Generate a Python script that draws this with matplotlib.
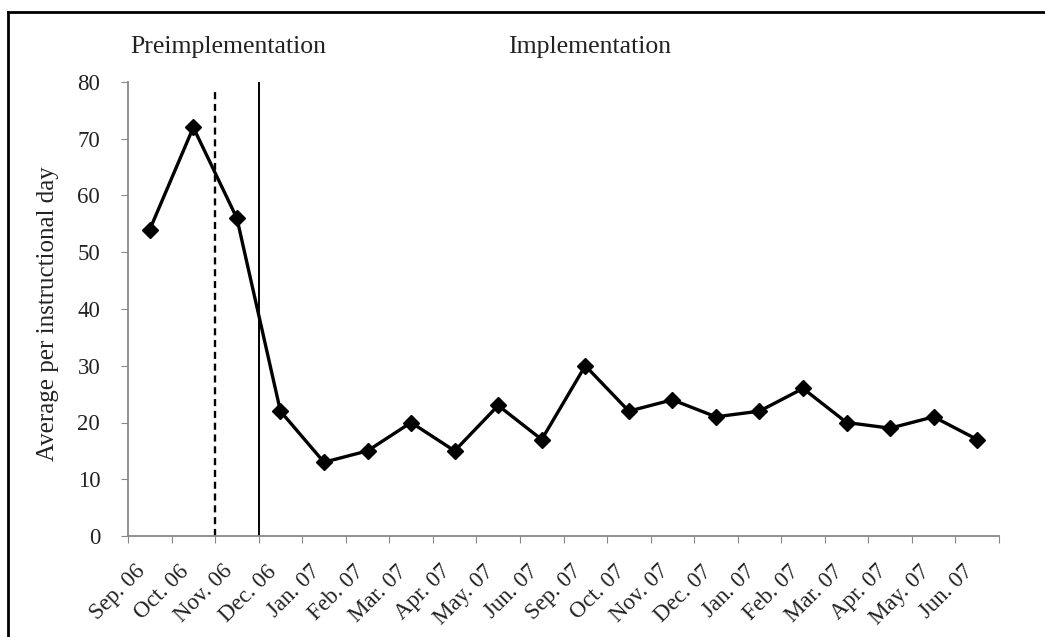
import matplotlib.pyplot as plt
from matplotlib.lines import Line2D

# Monthly averages
months = ["Sep. 06", "Oct. 06", "Nov. 06", "Dec. 06", "Jan. 07", "Feb. 07",
          "Mar. 07", "Apr. 07", "May. 07", "Jun. 07", "Sep. 07", "Oct. 07",
          "Nov. 07", "Dec. 07", "Jan. 07", "Feb. 07", "Mar. 07", "Apr. 07",
          "May. 07", "Jun. 07"]
values = [54, 72, 56, 22, 13, 15, 20, 15, 23, 17, 30, 22, 24, 21, 22, 26,
          20, 19, 21, 17]

# phase boundaries (category boundaries) and their heights
dashed_at, dashed_top = 2, 79
solid_at, solid_top = 3, 80
phase_labels = ["Preimplementation", "Implementation"]
phase_label_x = [2.3, 10.6]

plt.rcParams['font.family'] = ['Liberation Serif', 'DejaVu Serif']

fig = plt.figure(figsize=(10.45, 6.37), dpi=100)
ax = fig.add_axes([128 / 1045, 1 - 536 / 637, (999 - 128) / 1045, (536 - 82) / 637])

x = [i + 0.5 for i in range(len(values))]
ax.plot(x, values, color='black', lw=2.4, marker='D', ms=8, zorder=3)

ax.vlines(dashed_at, 0, dashed_top, colors='black', linestyles=(0, (3, 2)), lw=1.7)
ax.vlines(solid_at, 0, solid_top, colors='black', lw=1.4)

ax.set_xlim(0, len(values))
ax.set_ylim(0, 80)
ax.set_yticks(range(0, 81, 10))
ax.set_xticks(range(0, len(values) + 1))
ax.set_xticklabels([])
ax.set_xticks(x, minor=True)
ax.set_xticklabels(months, minor=True, rotation=45, ha='right', fontsize=16.5)
ax.tick_params(axis='x', which='minor', length=0, pad=18)
ax.tick_params(axis='x', which='major', length=5, color='#888888', direction='out')
ax.tick_params(axis='y', length=5, color='#888888', direction='out', pad=15,
               labelsize=16.5, labelcolor='#222222')
ax.tick_params(axis='x', which='minor', labelcolor='#222222')

for s in ['top', 'right']:
    ax.spines[s].set_visible(False)
for s in ['left', 'bottom']:
    ax.spines[s].set_color('#888888')
    ax.spines[s].set_linewidth(1.3)

ax.set_ylabel("Average per instructional day", fontsize=18, color='#222222')
ax.yaxis.set_label_coords(-0.079, 0.49)

for lbl, lx in zip(phase_labels, phase_label_x):
    ax.text(lx, 1.077, lbl, transform=ax.get_xaxis_transform(), ha='center',
            va='center', fontsize=18.5, color='#222222')

# outer frame (left and top edges visible in crop)
fx = 8 / 1045
fy = 1 - 12 / 637
fig.add_artist(Line2D([fx, fx], [0, fy], transform=fig.transFigure, color='black', lw=2))
fig.add_artist(Line2D([fx, 1], [fy, fy], transform=fig.transFigure, color='black', lw=2))

fig.savefig("out.png", dpi=100)
